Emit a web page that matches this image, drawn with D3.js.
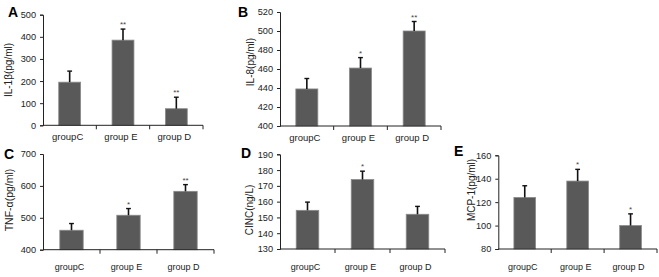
<!DOCTYPE html>
<html><head><meta charset="utf-8">
<script src="https://cdn.jsdelivr.net/npm/d3@7"></script>
<style>
body{margin:0;background:#fff;}
svg{display:block;font-family:"Liberation Sans",Arial,sans-serif;}
</style></head>
<body><svg id="c" width="659" height="277"></svg>
<script>
const categories = ["groupC", "group E", "group D"];

const valuesA = [195, 385, 75];
const errorsA = [50, 50, 52];
const starsA = ["", "**", "**"];
const ticksA = [0, 100, 200, 300, 400, 500];

const valuesB = [439, 461, 500];
const errorsB = [11, 11, 10];
const starsB = ["", "*", "**"];
const ticksB = [400, 420, 440, 460, 480, 500, 520];

const valuesC = [461, 508, 583];
const errorsC = [21, 21, 21];
const starsC = ["", "*", "**"];
const ticksC = [400, 500, 600, 700];

const valuesD = [154.5, 174, 152];
const errorsD = [5.2, 5.3, 5];
const starsD = ["", "*", ""];
const ticksD = [130, 140, 150, 160, 170, 180, 190];

const valuesE = [124, 138, 100];
const errorsE = [10, 10, 10];
const starsE = ["", "*", "*"];
const ticksE = [80, 100, 120, 140, 160];

const panels = [
  {letter:"A", label:"IL-1β(pg/ml)", values:valuesA, errors:errorsA, stars:starsA, ticks:ticksA,
   box:{x0:43, x1:203, yb:125.3, yt:14.7}, lx:8, ly:70, letterX:8, letterY:17, lfs:10, xfs:9.5, xly:14.5},
  {letter:"B", label:"IL-8(pg/ml)", values:valuesB, errors:errorsB, stars:starsB, ticks:ticksB,
   box:{x0:280, x1:441, yb:126, yt:12}, lx:250, ly:62, letterX:238, letterY:17, lfs:10, xfs:9.5, xly:14.5},
  {letter:"C", label:"TNF-α(pg/ml)", values:valuesC, errors:errorsC, stars:starsC, ticks:ticksC,
   box:{x0:43, x1:214, yb:249.7, yt:154}, lx:9, ly:200, letterX:4, letterY:159, lfs:10.5, xfs:9, xly:20.5},
  {letter:"D", label:"CINC(ng/L)", values:valuesD, errors:errorsD, stars:starsD, ticks:ticksD,
   box:{x0:280, x1:445, yb:249, yt:154.3}, lx:249, ly:210, letterX:241, letterY:158, lfs:10, xfs:9, xly:20.5},
  {letter:"E", label:"MCP-1(pg/ml)", values:valuesE, errors:errorsE, stars:starsE, ticks:ticksE,
   box:{x0:498.3, x1:657, yb:249, yt:155.3}, lx:471, ly:190, letterX:454, letterY:156, lfs:10, xfs:9, xly:20.5}
];

const svg = d3.select("#c");

panels.forEach(p => {
  const g = svg.append("g");
  const tks = p.ticks;
  const x = d3.scaleBand().domain(categories).range([p.box.x0, p.box.x1]).padding(0);
  const y = d3.scaleLinear().domain([tks[0], tks[tks.length-1]]).range([p.box.yb, p.box.yt]);
  const bw = x.bandwidth() * 0.41;

  // bars
  g.selectAll("rect.bar").data(categories).join("rect")
    .attr("x", (d) => x(d) + (x.bandwidth() - bw) / 2)
    .attr("width", bw)
    .attr("y", (d, i) => y(p.values[i]))
    .attr("height", (d, i) => y(tks[0]) - y(p.values[i]))
    .attr("fill", "#595959")
    .attr("stroke", "#8a8a8a")
    .attr("stroke-width", 0.8);

  // error bars (upper)
  categories.forEach((d, i) => {
    const cx = x(d) + x.bandwidth() / 2;
    const top = y(p.values[i] + p.errors[i]);
    g.append("line").attr("x1", cx).attr("x2", cx)
      .attr("y1", y(p.values[i])).attr("y2", top)
      .attr("stroke", "#111").attr("stroke-width", 1.6);
    g.append("line").attr("x1", cx - 2.4).attr("x2", cx + 2.4)
      .attr("y1", top).attr("y2", top)
      .attr("stroke", "#111").attr("stroke-width", 1.4);
    if (p.stars[i]) {
      g.append("text").attr("x", cx).attr("y", top - 2)
        .attr("text-anchor", "middle").attr("font-size", 8)
        .attr("fill", "#444").text(p.stars[i]);
    }
  });

  // y axis
  const ya = d3.axisLeft(y).tickValues(tks).tickSize(3).tickPadding(4).tickFormat(d3.format("d"));
  const yg = g.append("g").attr("transform", `translate(${p.box.x0},0)`).call(ya);
  yg.select(".domain").attr("stroke", "#222");
  yg.selectAll(".tick line").attr("stroke", "#222");
  yg.selectAll("text").attr("font-size", 9.2).attr("fill", "#222")
    .attr("font-family", "Liberation Sans, Arial, sans-serif");

  // x axis with ticks at band boundaries
  g.append("line").attr("x1", p.box.x0).attr("x2", p.box.x1)
    .attr("y1", y(tks[0])).attr("y2", y(tks[0]))
    .attr("stroke", "#222").attr("stroke-width", 1);
  const bounds = categories.map(d => x(d)).concat([x(categories[categories.length-1]) + x.bandwidth()]);
  g.selectAll("line.xt").data(bounds.slice(1)).join("line")
    .attr("x1", d => d).attr("x2", d => d)
    .attr("y1", y(tks[0])).attr("y2", y(tks[0]) + 4)
    .attr("stroke", "#222");
  g.selectAll("text.xl").data(categories).join("text")
    .attr("x", d => x(d) + x.bandwidth() / 2 - 2)
    .attr("y", y(tks[0]) + p.xly)
    .attr("text-anchor", "middle").attr("font-size", p.xfs).attr("fill", "#222")
    .text(d => d);

  // y label
  g.append("text").attr("transform", `translate(${p.lx},${p.ly}) rotate(-90)`)
    .attr("text-anchor", "middle").attr("dominant-baseline", "central")
    .attr("font-size", p.lfs).attr("fill", "#222").text(p.label);

  // panel letter
  g.append("text").attr("x", p.letterX).attr("y", p.letterY)
    .attr("font-size", 14).attr("font-weight", "bold").attr("fill", "#000").text(p.letter);
});
</script></body></html>
